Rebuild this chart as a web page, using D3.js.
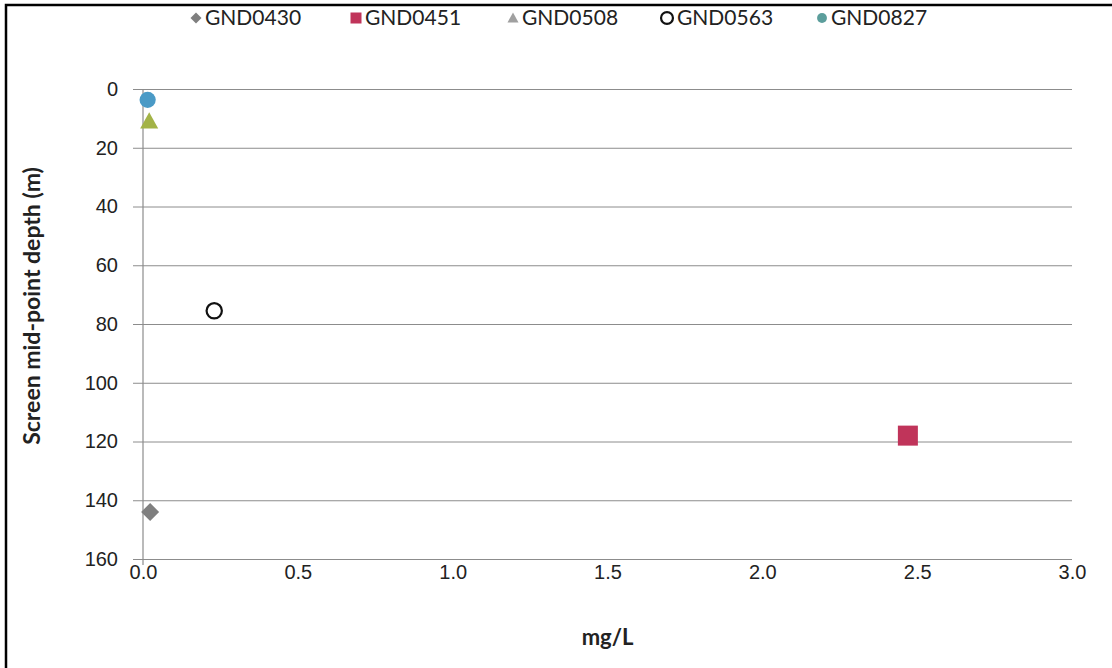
<!DOCTYPE html>
<html>
<head>
<meta charset="utf-8">
<script src="https://cdn.jsdelivr.net/npm/d3@7"></script>
<style>
  html, body { margin: 0; padding: 0; background: #fff; }
  svg { display: block; font-family: Lato, "Open Sans", sans-serif; }
</style>
</head>
<body>
<svg id="chart" width="1112" height="668"></svg>
<script>
// Well names and their measurements (concentration in mg/L, screen mid-point depth in m)
const wells = ["GND0430", "GND0451", "GND0508", "GND0563", "GND0827"];
const concentration = [0.023, 2.47, 0.02, 0.23, 0.015];
const depth = [144, 118, 11, 75.5, 3.7];
const shapes = ["diamond", "square", "triangle", "ring", "circle"];
const colors = ["#7f7f7f", "#c0345a", "#a3b347", "#111111", "#4a9ac6"];
const legendColors = ["#7f7f7f", "#c0345a", "#a0a0a0", "#111111", "#5c9e9c"];

const xTicks = [0, 0.5, 1.0, 1.5, 2.0, 2.5, 3.0];
const yTicks = [0, 20, 40, 60, 80, 100, 120, 140, 160];

const svg = d3.select("#chart");
const W = 1112, H = 668;

// outer frame
svg.append("rect").attr("x", 6).attr("y", 5).attr("width", W + 10).attr("height", H + 10)
  .attr("fill", "#fff").attr("stroke", "#000").attr("stroke-width", 2.5);

const plot = { left: 143, right: 1072, top: 89, bottom: 559 };
const x = d3.scaleLinear().domain([0, 3]).range([plot.left, plot.right]);
const y = d3.scaleLinear().domain([0, 160]).range([plot.top, plot.bottom]);

// horizontal gridlines with outward tick stubs
const yAxis = d3.axisLeft(y).tickValues(yTicks).tickFormat(d3.format("d"))
  .tickSize(-(plot.right - plot.left)).tickPadding(25);
const gy = svg.append("g").attr("transform", `translate(${plot.left},0)`).call(yAxis);
gy.select(".domain").remove();
gy.selectAll(".tick line").attr("x1", -10).attr("stroke", "#8c8c8c").attr("stroke-width", 1);
gy.selectAll(".tick text").attr("font-size", 20).attr("fill", "#222");

// x axis ticks and labels
const xAxis = d3.axisBottom(x).tickValues(xTicks).tickFormat(d3.format(".1f"))
  .tickSize(0).tickPadding(6);
const gx = svg.append("g").attr("transform", `translate(0,${plot.bottom})`).call(xAxis);
gx.select(".domain").remove();
gx.selectAll(".tick text").attr("font-size", 20).attr("fill", "#222");

// vertical axis line
svg.append("line").attr("x1", plot.left).attr("x2", plot.left)
  .attr("y1", plot.top).attr("y2", plot.bottom + 6)
  .attr("stroke", "#8c8c8c").attr("stroke-width", 1.2);

// axis titles
svg.append("text").attr("x", x(1.5)).attr("y", 645).attr("text-anchor", "middle")
  .attr("font-size", 22).attr("font-weight", "bold").attr("fill", "#222").text("mg/L");
svg.append("text").attr("transform", `translate(40,306) rotate(-90)`)
  .attr("text-anchor", "middle").attr("font-size", 23).attr("font-weight", "bold")
  .attr("fill", "#222").text("Screen mid-point depth (m)");

// marker drawing
function drawMarker(g, shape, color, size) {
  const s = size;
  if (shape === "diamond") {
    g.append("path").attr("d", `M0,${-s}L${s},0L0,${s}L${-s},0Z`).attr("fill", color);
  } else if (shape === "square") {
    g.append("rect").attr("x", -s).attr("y", -s).attr("width", 2 * s).attr("height", 2 * s).attr("fill", color);
  } else if (shape === "triangle") {
    g.append("path").attr("d", `M0,${-s}L${s},${s * 0.8}L${-s},${s * 0.8}Z`).attr("fill", color);
  } else if (shape === "ring") {
    g.append("circle").attr("r", s * 0.85).attr("fill", "#fff").attr("stroke", color).attr("stroke-width", 2.2);
  } else {
    g.append("circle").attr("r", s * 0.9).attr("fill", color);
  }
}

// data points (drawn so the shallow circle sits over the triangle)
const order = [0, 1, 3, 2, 4];
order.forEach(i => {
  const g = svg.append("g").attr("transform", `translate(${x(concentration[i])},${y(depth[i])})`);
  drawMarker(g, shapes[i], colors[i], i === 1 ? 10 : 9);
});

// legend
const legendX = [196, 356, 513, 667, 822];
wells.forEach((w, i) => {
  const g = svg.append("g").attr("transform", `translate(${legendX[i]},18)`);
  const m = g.append("g");
  drawMarker(m, shapes[i], legendColors[i], i === 3 ? 7 : 5.5);
  g.append("text").attr("x", i === 3 ? 10 : 9).attr("y", 7).attr("font-size", 21).attr("fill", "#222").text(w);
});
</script>
</body>
</html>
